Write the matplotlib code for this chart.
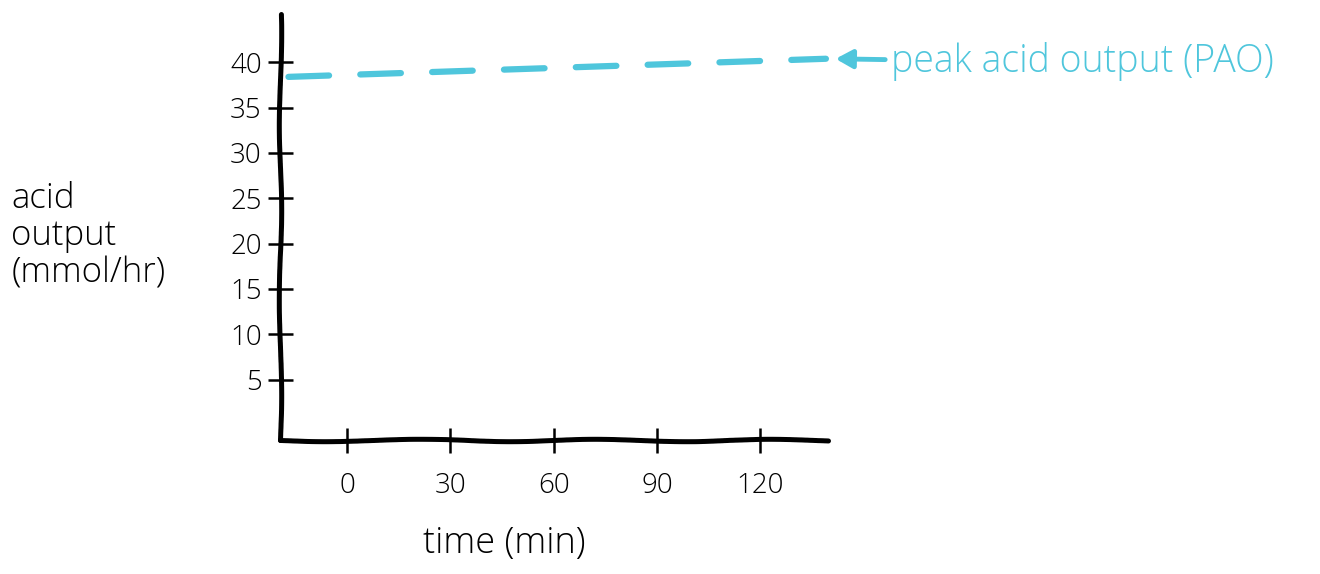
import numpy as np
import matplotlib.pyplot as plt

# data
y_ticks = [5, 10, 15, 20, 25, 30, 35, 40]
x_ticks = [0, 30, 60, 90, 120]
pao_level = 39.2
pao_label = 'peak acid output (PAO)'
y_label = 'acid\noutput\n(mmol/hr)'
x_label = 'time (min)'

ink = 'black'
cyan = '#4fc6dc'

plt.rcParams['font.family'] = ['Open Sans', 'DejaVu Sans']
plt.rcParams['font.weight'] = 'light'

fig = plt.figure(figsize=(13.2, 5.74), dpi=100)
ax = fig.add_axes([0.212, 0.233, 0.415, 0.742])

ax.set_xlim(-19.5, 139.5)
ax.set_ylim(-1.7, 45.3)

for side in ['top', 'right']:
    ax.spines[side].set_visible(False)
for side in ['left', 'bottom']:
    ax.spines[side].set_linewidth(3.6)
    ax.spines[side].set_color(ink)
    ax.spines[side].set_capstyle('round')
    ax.spines[side].set_sketch_params(1.2, 200, 2)

ax.set_xticks(x_ticks)
ax.set_yticks(y_ticks)
ax.tick_params(axis='both', direction='inout', length=18, width=1.8,
               colors=ink, labelsize=20)
ax.tick_params(axis='x', pad=14)
ax.tick_params(axis='y', pad=4)

ax.set_ylabel(y_label, rotation=0, fontsize=25, fontweight='light',
              ha='left', va='center', linespacing=1.1)
ax.yaxis.set_label_coords(-0.49, 0.48)
ax.set_xlabel(x_label, fontsize=26, fontweight='light')
ax.xaxis.set_label_coords(0.41, -0.2)

# dashed PAO line, running past the axis to the arrow
ax.plot([-17, 139], [pao_level - 0.8, pao_level + 1.2], color=cyan, lw=4.5,
        linestyle=(0, (6.5, 5)), dash_capstyle='round', clip_on=False)
ax.annotate('', xy=(141, pao_level + 1.2), xytext=(157, pao_level + 1.1),
            arrowprops=dict(arrowstyle='-|>,head_length=1.0,head_width=0.55',
                            color=cyan, lw=3.5),
            annotation_clip=False)
ax.text(158, pao_level + 0.9, pao_label, color=cyan, fontsize=27,
        ha='left', va='center', clip_on=False)

fig.savefig('out.png', dpi=100)
